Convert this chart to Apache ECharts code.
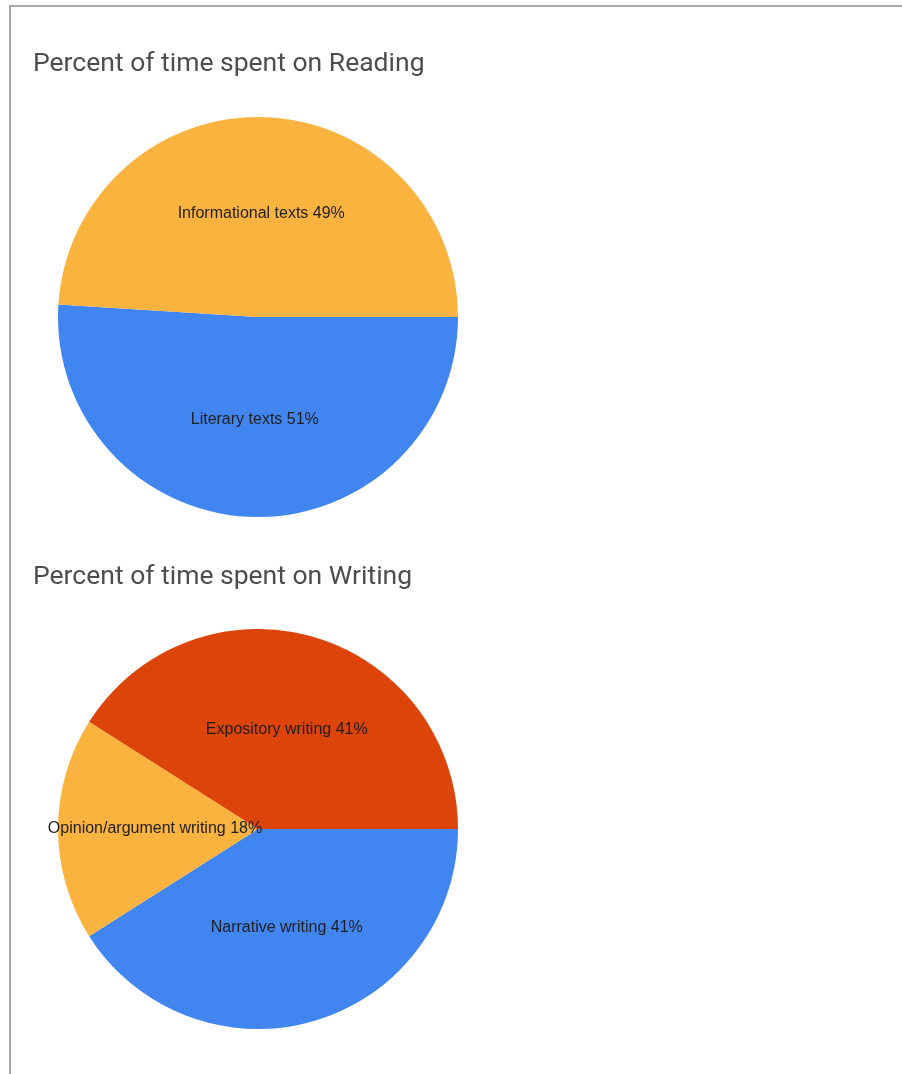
<!DOCTYPE html>
<html>
<head>
<meta charset="utf-8">
<script src="https://cdn.jsdelivr.net/npm/echarts@6/dist/echarts.min.js"></script>
<style>
  html, body { margin: 0; padding: 0; background: #fff; }
  #frame {
    position: absolute; left: 9px; top: 5px; right: 0; bottom: 0;
    border-top: 2px solid #a8a8a8; border-left: 2px solid #a8a8a8;
  }
  #charts { position: absolute; left: 0; top: 0; width: 902px; height: 1074px; }
</style>
</head>
<body>
<div id="frame"></div>
<div id="charts"></div>
<script>
// Reading
const readingNames = ['Literary texts', 'Informational texts']
const readingValues = [51, 49]
const readingColors = ['#4186f0', '#fab33e']

// Writing
const writingNames = ['Narrative writing', 'Opinion/argument writing', 'Expository writing']
const writingValues = [41, 18, 41]
const writingColors = ['#4186f0', '#fab33e', '#dd4409']

const titleStyle = { fontFamily: 'Roboto', fontSize: 26.5, fontWeight: 'normal', color: '#4d4d4d' }

function pieSeries(names, values, colors, center) {
    return {
        type: 'pie',
        center: center,
        radius: 200,
        startAngle: 0,
        clockwise: true,
        animation: false,
        silent: true,
        itemStyle: { borderWidth: 0 },
        label: {
            show: true,
            position: 'inside',
            formatter: '{b} {c}%',
            fontFamily: 'Liberation Sans, Arial',
            fontSize: 16,
            color: '#1e1e1e'
        },
        labelLine: { show: false },
        data: names.map((n, i) => ({ name: n, value: values[i], itemStyle: { color: colors[i] } }))
    }
}

let myCharts = echarts.init(document.getElementById('charts'))
myCharts.setOption({
    backgroundColor: 'transparent',
    title: [
        { text: 'Percent of time spent on Reading', left: 28, top: 46, textStyle: titleStyle },
        { text: 'Percent of time spent on Writing', left: 28, top: 559, textStyle: titleStyle }
    ],
    series: [
        pieSeries(readingNames, readingValues, readingColors, [258, 317]),
        pieSeries(writingNames, writingValues, writingColors, [258, 829])
    ]
})
</script>
</body>
</html>
